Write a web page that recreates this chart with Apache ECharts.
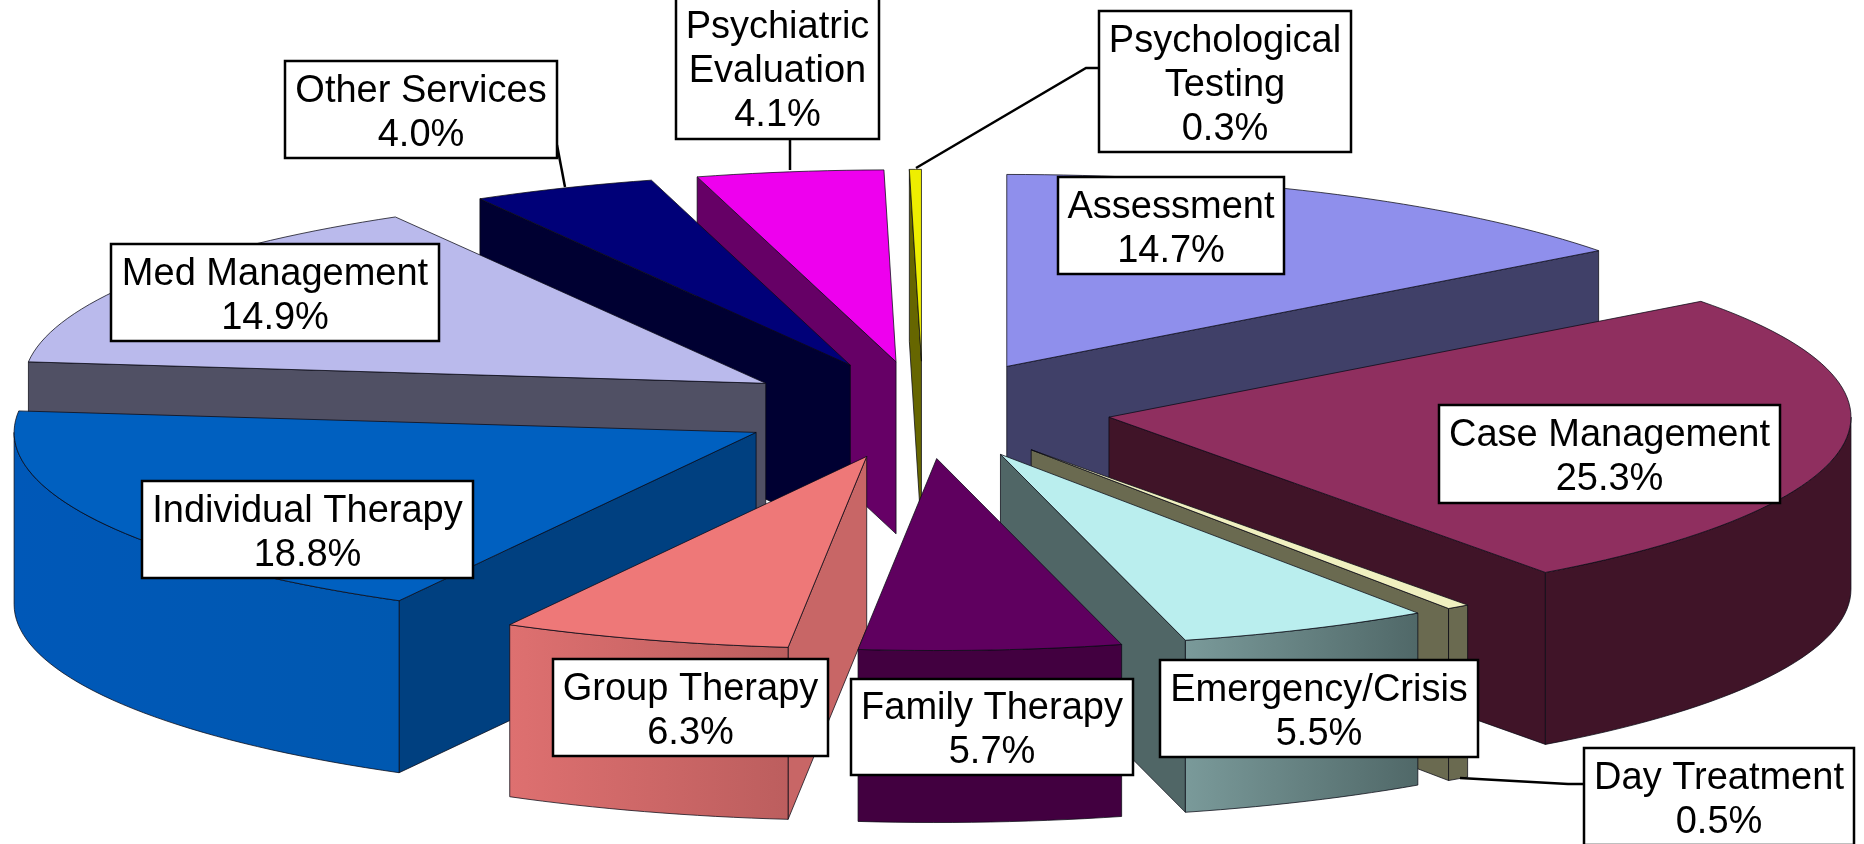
<!DOCTYPE html>
<html>
<head>
<meta charset="utf-8">
<title>Services</title>
<style>html,body{margin:0;padding:0;background:#fff;overflow:hidden}#c{width:1864px;height:844px}</style>
<script src="https://cdn.jsdelivr.net/npm/echarts@6/dist/echarts.min.js"></script>
</head>
<body>
<div id="c"></div>
<script>
// Data, clockwise from twelve o'clock
const categories = ['Assessment','Case Management','Day Treatment','Emergency/Crisis','Family Therapy','Group Therapy','Individual Therapy','Med Management','Other Services','Psychiatric Evaluation','Psychological Testing'];
const shares = [14.7,25.3,0.5,5.5,5.7,6.3,18.8,14.9,4.0,4.06,0.26];
const labelLines = ['Assessment','Case Management','Day Treatment','Emergency/Crisis','Family Therapy','Group Therapy','Individual Therapy','Med Management','Other Services','Psychiatric\nEvaluation','Psychological\nTesting'];

// Styles: top, radial wall, outer wall (light end, dark end)
const topColors = ['#8F8FEC','#8F2F5F','#F0F0C0','#BAEEEE','#5F005F','#EE7878','#0060C0','#BABAEC','#000078','#EE00EE','#EEEE00'];
const sideColors = ['#404068','#401428','#6A6A50','#506666','#420040','#C86666','#004080','#505064','#000032','#660066','#666600'];
const wallFrom = ['#404068','#401428','#6A6A50','#7A9A9A','#420040','#DE7070','#0058B8','#505064','#000032','#660066','#666600'];
const wallTo = ['#404068','#401428','#6A6A50','#506868','#420040','#BC5E5E','#0058B0','#505064','#000032','#660066','#666600'];

// Layout
const cx = 923, cy = 410, rx = 742, ry = 192, depth = 172, explode = 188;
const boxes = [
  [1058,177,226,97],[1439,405,341,98],[1584,748,270,97],[1160,660,318,97],
  [851,679,282,96],[553,659,275,97],[142,481,331,97],[111,244,328,97],
  [285,61,272,97],[676,-4,203,143],[1099,11,252,141]
];
const leaders = {
  2: [[1585,784],[1568,784],[1460,778]],
  8: [[557,145],[565,187]],
  9: [[790,139],[790,170]],
  10:[[1099,68],[1086,68],[916,168]]
};

const rad = d => d * Math.PI / 180;
const cum = [];
shares.reduce((a, v, i) => (cum[i] = a, a + v), 0);
const total = shares.reduce((a, b) => a + b, 0);
const sliceAngles = shares.map((v, i) => {
  const a0 = cum[i] / total * 360, a1 = (cum[i] + v) / total * 360;
  return [a0, a1, (a0 + a1) / 2];
});
const paintOrder = shares.map((_, i) => i).sort((a, b) => Math.cos(rad(sliceAngles[b][2])) - Math.cos(rad(sliceAngles[a][2])));

const edge = {stroke: 'rgba(10,10,20,0.75)', lineWidth: 1};

function renderSlice(params) {
  const i = paintOrder[params.dataIndex];
  const [a0, a1, m] = sliceAngles[i];
  const ax = cx + explode * Math.sin(rad(m));
  const ay = cy - explode * Math.cos(rad(m)) * ry / rx;
  const P = (d) => [ax + rx * Math.sin(rad(d)), ay - ry * Math.cos(rad(d))];
  const arc = (s, e) => {
    const n = Math.max(2, Math.ceil((e - s) / 1.5)), out = [];
    for (let k = 0; k <= n; k++) out.push(P(s + (e - s) * k / n));
    return out;
  };
  const drop = p => [p[0], p[1] + depth];
  const poly = (points, fill) => ({type: 'polygon', shape: {points}, style: Object.assign({fill}, edge)});
  const children = [];
  const wall = (p, q) => poly([p, q, drop(q), drop(p)], sideColors[i]);
  if (Math.sin(rad(a0)) < 0) children.push(wall([ax, ay], P(a0)));
  if (Math.sin(rad(a1)) > 0) children.push(wall(P(a1), [ax, ay]));
  const w0 = Math.max(a0, 90), w1 = Math.min(a1, 270);
  if (w1 > w0) {
    const top = arc(w0, w1);
    const fill = new echarts.graphic.LinearGradient(0, 0, 1, 0, [
      {offset: 0, color: wallFrom[i]}, {offset: 1, color: wallTo[i]}
    ]);
    children.push(poly(top.concat(top.slice().reverse().map(drop)), fill));
  }
  children.push(poly([[ax, ay]].concat(arc(a0, a1)), topColors[i]));
  return {type: 'group', children};
}

function renderLabel(params) {
  const i = params.dataIndex;
  const [x, y, w, h] = boxes[i];
  const children = [];
  if (leaders[i]) children.push({
    type: 'polyline', shape: {points: leaders[i]},
    style: {stroke: '#000', lineWidth: 2.5, fill: null}
  });
  children.push({
    type: 'rect', shape: {x, y, width: w, height: h},
    style: {fill: '#fff', stroke: '#000', lineWidth: 2.5}
  });
  children.push({
    type: 'text', x: x + w / 2, y: y + h / 2 + 4,
    style: {
      text: labelLines[i] + '\n' + shares[i].toFixed(1) + '%',
      fill: '#000', font: '38px "Liberation Sans", Arial, sans-serif',
      lineHeight: 44, align: 'center', verticalAlign: 'middle'
    }
  });
  return {type: 'group', children};
}

const chart = echarts.init(document.getElementById('c'), null, {renderer: 'canvas'});
chart.setOption({
  animation: false,
  backgroundColor: '#fff',
  series: [
    {type: 'custom', coordinateSystem: 'none', silent: true, clip: false, z: 2,
     renderItem: renderSlice, data: paintOrder.map(i => ({name: categories[i], value: [shares[i]]}))},
    {type: 'custom', coordinateSystem: 'none', silent: true, clip: false, z: 5,
     renderItem: renderLabel, data: categories.map((n, i) => ({name: n, value: [shares[i]]}))}
  ]
});
</script>
</body>
</html>
